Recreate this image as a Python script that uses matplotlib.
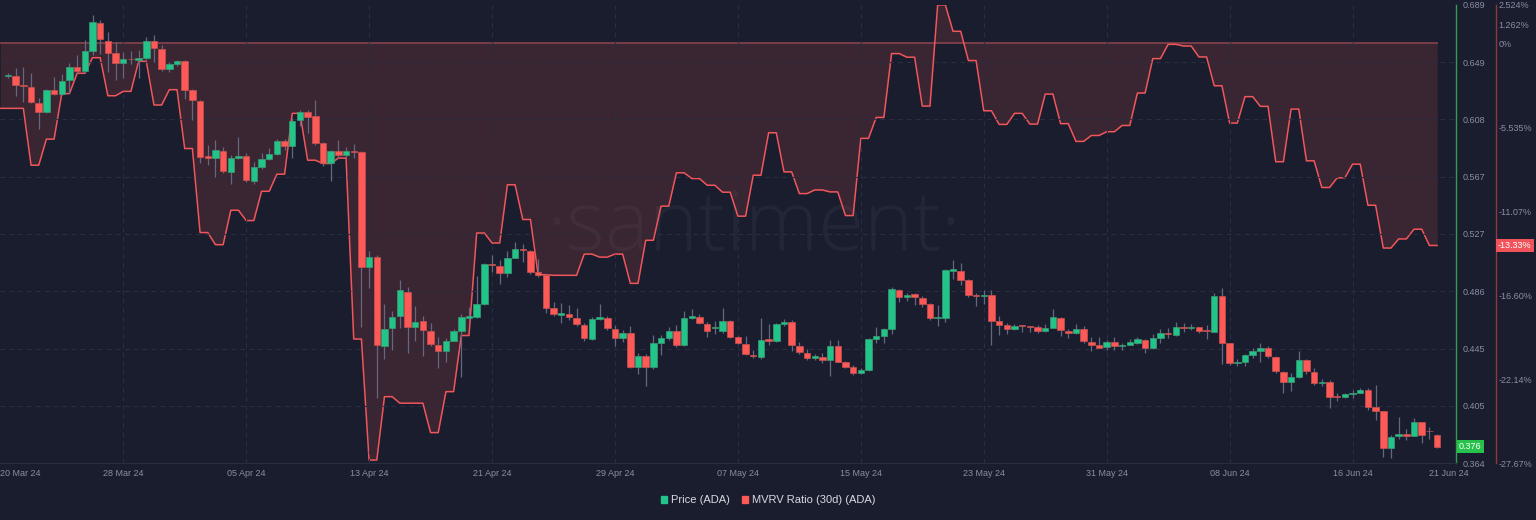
import numpy as np
import pandas as pd
import matplotlib
matplotlib.use("Agg")
import matplotlib.pyplot as plt
import matplotlib.dates as mdates
from matplotlib.patches import Patch

"""
Data: ADA 12h candles (20 Mar 24 12:00 -> 21 Jun 24 12:00) and daily MVRV 30d (%)
"""
candle_start = "2024-03-20 12:00"
mvrv_start = "2024-03-20"

opens = [
    0.6387, 0.6387, 0.6319, 0.6311, 0.6193, 0.6129, 0.6287, 0.6257, 0.6356, 0.6451,
    0.6422, 0.6562, 0.6765, 0.6637, 0.6548, 0.6477, 0.6505, 0.6502, 0.6517, 0.6635,
    0.6580, 0.6438, 0.6470, 0.6495, 0.6285, 0.6209, 0.5821, 0.5805, 0.5854, 0.5707,
    0.5807, 0.5821, 0.5644, 0.5741, 0.5800, 0.5835, 0.5925, 0.5890, 0.6074, 0.6133,
    0.6101, 0.5909, 0.5767, 0.5854, 0.5824, 0.5854, 0.5847, 0.5031, 0.5102, 0.4470,
    0.4598, 0.4683, 0.4856, 0.4603, 0.4648, 0.4577, 0.4480, 0.4435, 0.4508, 0.4575,
    0.4669, 0.4676, 0.4769, 0.5055, 0.5036, 0.4986, 0.5095, 0.5161, 0.5147, 0.4993,
    0.4972, 0.4738, 0.4690, 0.4700, 0.4671, 0.4617, 0.4522, 0.4664, 0.4671, 0.4593,
    0.4525, 0.4563, 0.4319, 0.4399, 0.4324, 0.4492, 0.4527, 0.4575, 0.4480, 0.4669,
    0.4678, 0.4626, 0.4598, 0.4577, 0.4650, 0.4532, 0.4482, 0.4409, 0.4394, 0.4518,
    0.4508, 0.4629, 0.4643, 0.4473, 0.4423, 0.4383, 0.4394, 0.4371, 0.4473, 0.4359,
    0.4324, 0.4277, 0.4300, 0.4518, 0.4543, 0.4591, 0.4870, 0.4816, 0.4837, 0.4813,
    0.4766, 0.4667, 0.4671, 0.5005, 0.5005, 0.4939, 0.4827, 0.4827, 0.4832, 0.4646,
    0.4622, 0.4589, 0.4615, 0.4610, 0.4602, 0.4577, 0.4600, 0.4671, 0.4579, 0.4563,
    0.4593, 0.4501, 0.4475, 0.4461, 0.4499, 0.4468, 0.4477, 0.4494, 0.4513, 0.4456,
    0.4525, 0.4565, 0.4548, 0.4607, 0.4596, 0.4603, 0.4582, 0.4572, 0.4825, 0.4490,
    0.4348, 0.4357, 0.4404, 0.4435, 0.4456, 0.4394, 0.4288, 0.4213, 0.4250, 0.4371,
    0.4286, 0.4206, 0.4217, 0.4111, 0.4106, 0.4128, 0.4137, 0.4156, 0.4038, 0.4009,
    0.3744, 0.3830, 0.3848, 0.3832, 0.3929, 0.3866, 0.3839,
]
closes = [
    0.6390, 0.6321, 0.6316, 0.6202, 0.6129, 0.6285, 0.6257, 0.6353, 0.6453, 0.6422,
    0.6562, 0.6772, 0.6647, 0.6548, 0.6481, 0.6505, 0.6504, 0.6517, 0.6635, 0.6588,
    0.6438, 0.6470, 0.6495, 0.6287, 0.6214, 0.5814, 0.5807, 0.5861, 0.5712, 0.5805,
    0.5821, 0.5649, 0.5741, 0.5798, 0.5835, 0.5925, 0.5890, 0.6069, 0.6131, 0.6098,
    0.5913, 0.5767, 0.5854, 0.5828, 0.5854, 0.5847, 0.5031, 0.5102, 0.4475, 0.4593,
    0.4678, 0.4866, 0.4603, 0.4639, 0.4584, 0.4485, 0.4437, 0.4508, 0.4575, 0.4674,
    0.4683, 0.4769, 0.5055, 0.5043, 0.4986, 0.5095, 0.5159, 0.5152, 0.4993, 0.4972,
    0.4742, 0.4695, 0.4703, 0.4678, 0.4624, 0.4525, 0.4660, 0.4676, 0.4600, 0.4525,
    0.4565, 0.4319, 0.4399, 0.4324, 0.4490, 0.4527, 0.4575, 0.4477, 0.4667, 0.4683,
    0.4631, 0.4575, 0.4600, 0.4650, 0.4536, 0.4490, 0.4414, 0.4399, 0.4515, 0.4508,
    0.4626, 0.4643, 0.4477, 0.4430, 0.4385, 0.4399, 0.4371, 0.4470, 0.4359, 0.4324,
    0.4277, 0.4300, 0.4518, 0.4541, 0.4591, 0.4877, 0.4816, 0.4835, 0.4818, 0.4769,
    0.4671, 0.4676, 0.5008, 0.5015, 0.4941, 0.4830, 0.4825, 0.4829, 0.4648, 0.4622,
    0.4589, 0.4612, 0.4612, 0.4603, 0.4577, 0.4600, 0.4674, 0.4584, 0.4563, 0.4593,
    0.4506, 0.4477, 0.4458, 0.4501, 0.4470, 0.4477, 0.4497, 0.4518, 0.4456, 0.4525,
    0.4565, 0.4553, 0.4607, 0.4596, 0.4603, 0.4577, 0.4575, 0.4825, 0.4490, 0.4348,
    0.4359, 0.4404, 0.4435, 0.4456, 0.4399, 0.4295, 0.4213, 0.4250, 0.4371, 0.4293,
    0.4206, 0.4217, 0.4111, 0.4108, 0.4128, 0.4137, 0.4156, 0.4040, 0.4011, 0.3744,
    0.3827, 0.3848, 0.3832, 0.3929, 0.3839, 0.3864, 0.3756,
]
highs = [
    0.6408, 0.6441, 0.6448, 0.6410, 0.6228, 0.6297, 0.6380, 0.6401, 0.6477, 0.6536,
    0.6642, 0.6820, 0.6784, 0.6699, 0.6630, 0.6557, 0.6564, 0.6571, 0.6661, 0.6678,
    0.6607, 0.6486, 0.6500, 0.6500, 0.6294, 0.6216, 0.5897, 0.5932, 0.5881, 0.5826,
    0.5954, 0.5840, 0.5778, 0.5842, 0.5873, 0.5937, 0.5940, 0.6086, 0.6145, 0.6145,
    0.6216, 0.5920, 0.5861, 0.5932, 0.5885, 0.5902, 0.5854, 0.5145, 0.5116, 0.4766,
    0.4721, 0.4939, 0.4887, 0.4754, 0.4683, 0.4631, 0.4532, 0.4527, 0.4589, 0.4698,
    0.4745, 0.4967, 0.5060, 0.5116, 0.5081, 0.5145, 0.5211, 0.5192, 0.5152, 0.5088,
    0.4979, 0.4785, 0.4773, 0.4761, 0.4738, 0.4634, 0.4678, 0.4766, 0.4683, 0.4619,
    0.4584, 0.4615, 0.4423, 0.4414, 0.4548, 0.4548, 0.4603, 0.4617, 0.4719, 0.4733,
    0.4698, 0.4641, 0.4648, 0.4740, 0.4655, 0.4541, 0.4541, 0.4442, 0.4667, 0.4626,
    0.4636, 0.4662, 0.4655, 0.4497, 0.4447, 0.4414, 0.4419, 0.4513, 0.4513, 0.4364,
    0.4336, 0.4314, 0.4527, 0.4607, 0.4598, 0.4891, 0.4877, 0.4849, 0.4846, 0.4825,
    0.4775, 0.4761, 0.5017, 0.5081, 0.5057, 0.4946, 0.4849, 0.4868, 0.4868, 0.4683,
    0.4634, 0.4626, 0.4619, 0.4612, 0.4619, 0.4626, 0.4733, 0.4676, 0.4591, 0.4624,
    0.4612, 0.4536, 0.4536, 0.4513, 0.4536, 0.4490, 0.4518, 0.4532, 0.4520, 0.4553,
    0.4589, 0.4596, 0.4643, 0.4636, 0.4624, 0.4607, 0.4619, 0.4849, 0.4880, 0.4492,
    0.4376, 0.4417, 0.4454, 0.4494, 0.4470, 0.4399, 0.4293, 0.4277, 0.4433, 0.4378,
    0.4312, 0.4236, 0.4229, 0.4139, 0.4135, 0.4158, 0.4170, 0.4170, 0.4194, 0.4009,
    0.3839, 0.3969, 0.3879, 0.3957, 0.3931, 0.3898, 0.3846,
]
lows = [
    0.6372, 0.6245, 0.6200, 0.6195, 0.6011, 0.6127, 0.6252, 0.6252, 0.6268, 0.6408,
    0.6408, 0.6536, 0.6543, 0.6413, 0.6358, 0.6372, 0.6472, 0.6375, 0.6500, 0.6488,
    0.6422, 0.6415, 0.6458, 0.6221, 0.6074, 0.5767, 0.5755, 0.5668, 0.5696, 0.5618,
    0.5798, 0.5634, 0.5620, 0.5727, 0.5791, 0.5826, 0.5861, 0.5803, 0.6034, 0.5980,
    0.5897, 0.5748, 0.5644, 0.5805, 0.5812, 0.5807, 0.4607, 0.4880, 0.4099, 0.4376,
    0.4440, 0.4596, 0.4419, 0.4506, 0.4399, 0.4470, 0.4312, 0.4359, 0.4506, 0.4253,
    0.4655, 0.4669, 0.4761, 0.4998, 0.4908, 0.4962, 0.5095, 0.5069, 0.4981, 0.4960,
    0.4703, 0.4683, 0.4636, 0.4655, 0.4612, 0.4508, 0.4513, 0.4655, 0.4584, 0.4473,
    0.4501, 0.4314, 0.4272, 0.4189, 0.4305, 0.4404, 0.4513, 0.4465, 0.4470, 0.4665,
    0.4626, 0.4532, 0.4553, 0.4563, 0.4529, 0.4485, 0.4406, 0.4383, 0.4376, 0.4477,
    0.4499, 0.4612, 0.4437, 0.4414, 0.4371, 0.4371, 0.4348, 0.4258, 0.4357, 0.4314,
    0.4265, 0.4270, 0.4293, 0.4490, 0.4490, 0.4556, 0.4783, 0.4792, 0.4761, 0.4749,
    0.4653, 0.4612, 0.4643, 0.4946, 0.4903, 0.4818, 0.4754, 0.4769, 0.4477, 0.4548,
    0.4556, 0.4584, 0.4572, 0.4572, 0.4560, 0.4570, 0.4598, 0.4541, 0.4525, 0.4556,
    0.4492, 0.4435, 0.4454, 0.4442, 0.4442, 0.4442, 0.4474, 0.4485, 0.4423, 0.4449,
    0.4490, 0.4525, 0.4541, 0.4572, 0.4584, 0.4565, 0.4518, 0.4570, 0.4343, 0.4336,
    0.4328, 0.4328, 0.4383, 0.4357, 0.4383, 0.4277, 0.4139, 0.4151, 0.4243, 0.4272,
    0.4194, 0.4187, 0.4028, 0.4082, 0.4099, 0.4099, 0.4137, 0.4016, 0.3945, 0.3680,
    0.3673, 0.3808, 0.3803, 0.3832, 0.3784, 0.3808, 0.3744,
]

# MVRV ratio (30d), one value per day, in %
mvrv_pct = [
    -4.29, -4.29, -8.04, -6.32, -3.32, -1.98, -0.95, -3.46, -3.17, -1.19,
    -4.07, -3.06, -6.94, -12.48, -13.28, -11.01, -11.69, -9.76, -8.63, -4.62,
    -7.71, -7.93, -7.57, -19.50, -27.48, -23.30, -23.73, -23.73, -25.67, -22.97,
    -19.27, -12.51, -13.17, -9.33, -11.62, -15.26, -15.30, -15.30, -13.90, -14.10,
    -13.90, -15.83, -12.99, -10.74, -8.54, -8.92, -9.36, -9.82, -11.40, -8.70,
    -5.90, -8.48, -9.91, -9.67, -9.80, -11.36, -6.27, -4.89, -0.68, -0.92,
    -4.14, 2.53, 0.79, -1.14, -4.45, -5.35, -4.62, -5.33, -3.35, -5.30,
    -6.47, -6.08, -5.83, -5.42, -3.28, -1.01, -0.07, -0.18, -0.90, -2.80,
    -5.26, -3.52, -4.16, -7.81, -4.34, -7.75, -9.51, -8.87, -7.97, -10.68,
    -13.50, -12.90, -12.26, -13.33,
]

price_ticks = ["0.364", "0.405", "0.445", "0.486", "0.527", "0.567", "0.608", "0.649", "0.689"]
mvrv_ticks = ["2.524%", "1.262%", "0%", "-5.535%", "-11.07%", "-16.60%", "-22.14%", "-27.67%"]
mvrv_tick_vals = [2.524, 1.262, 0.0, -5.535, -11.07, -16.605, -22.14, -27.675]
date_ticks = ["2024-03-20", "2024-03-28", "2024-04-05", "2024-04-13", "2024-04-21", "2024-04-29",
              "2024-05-07", "2024-05-15", "2024-05-23", "2024-05-31", "2024-06-08", "2024-06-16",
              "2024-06-21"]

"""
Colours
"""
BG = "#1a1d2d"
GREEN = "#23c48a"
GREEN_EDGE = "#3a9b72"
RED = "#fd5a57"
RED_EDGE = "#c9504f"
WICK = "#646782"
GRID = "#2b2f44"
LABEL = "#8a8ea4"

plt.rcParams["font.family"] = ["Liberation Sans", "DejaVu Sans"]

fig = plt.figure(figsize=(15.36, 5.2), dpi=100, facecolor=BG)
ax = fig.add_axes([0.0, 0.1096, 0.9479, 0.8808])
ax2 = ax.twinx()
ax.set_zorder(2)
ax2.set_zorder(1)
ax.patch.set_visible(False)
ax2.patch.set_visible(False)

o = np.array(opens)
c = np.array(closes)
h = np.array(highs)
l = np.array(lows)
x = mdates.date2num(pd.date_range(candle_start, periods=len(o), freq="12h"))

# MVRV: daily value held through the day (12h steps)
ym = np.repeat(mvrv_pct, 2)
xm = mdates.date2num(pd.date_range(mvrv_start, periods=len(ym), freq="12h"))

# MVRV fill + line on the secondary axis
ax2.fill_between(xm, ym, 0, color=RED, alpha=0.14, linewidth=0)
ax2.plot([xm[0], xm[-1]], [0, 0], color="#82404a", lw=1.3)
ax2.plot(xm, ym, color="#f0565a", lw=1.1)
ax2.set_ylim(-27.675, 2.524)
ax2.set_yticks(mvrv_tick_vals)
ax2.set_yticklabels(mvrv_ticks)
ax2.text(0.518, 0.513, "\u00b7santiment\u00b7", transform=ax2.transAxes, ha="center", va="center",
         fontsize=60, color="white", alpha=0.045, family=["Open Sans", "DejaVu Sans"],
         fontweight="light", zorder=0)

# candles
up = c >= o
colors = np.where(up, GREEN, RED)
edges = np.where(up, GREEN_EDGE, RED_EDGE)
body = np.maximum(np.abs(c - o), 0.0005)
ax.vlines(x, l, h, color=WICK, lw=0.9, zorder=2)
ax.bar(x, body, bottom=np.minimum(o, c), width=0.42, color=colors, edgecolor=edges,
       linewidth=0.5, zorder=3)

ax.set_ylim(0.364, 0.689)
ax.set_yticks(np.linspace(0.364, 0.689, 9))
ax.set_yticklabels(price_ticks)

x0 = mdates.date2num(pd.Timestamp("2024-03-20"))
ax.set_xlim(x0 - 0.02, x0 + 94.73)
ax.set_xticks(mdates.date2num(pd.to_datetime(date_ticks)))
ax.set_xticklabels(pd.to_datetime(date_ticks).strftime("%d %b %y"))

# axes styling
ax.yaxis.set_ticks_position("right")
ax.tick_params(axis="y", length=0, pad=4.5, labelsize=6.5, labelcolor=LABEL)
ax.tick_params(axis="x", length=0, pad=4, labelsize=6.5, labelcolor=LABEL)
ax2.tick_params(axis="y", length=0, pad=2, labelsize=6.5, labelcolor=LABEL)
ax.grid(True, color=GRID, linestyle=(0, (4, 4)), linewidth=0.8)
ax.get_xgridlines()[-1].set_visible(False)
ax.get_xgridlines()[0].set_visible(False)
ax.get_ygridlines()[0].set_visible(False)
ax.get_ygridlines()[-1].set_visible(False)
xl = ax.get_xticklabels()
xl[0].set_horizontalalignment("left")
xl[-1].set_horizontalalignment("left")

for s in ["left", "top"]:
    ax.spines[s].set_visible(False)
    ax2.spines[s].set_visible(False)
ax.spines["bottom"].set_color("#2a2d40")
ax2.spines["bottom"].set_visible(False)
ax.spines["right"].set_color("#2e9e4f")
ax.spines["right"].set_linewidth(1.0)
ax2.spines["right"].set_position(("outward", 28.8))
ax2.spines["right"].set_color("#8c3a40")
ax2.spines["right"].set_linewidth(1.0)

# last value tags
ax.text(1.0 + 3 / 1456, c[-1], f"{c[-1]:.3f}", transform=ax.get_yaxis_transform(), ha="left",
        va="center", fontsize=6.5, color="white", clip_on=False,
        bbox=dict(boxstyle="square,pad=0.25", fc="#27c24c", ec="none"))
ax2.text(1.0 + 42 / 1456, mvrv_pct[-1], f"{mvrv_pct[-1]:.2f}%", transform=ax2.get_yaxis_transform(),
         ha="left", va="center", fontsize=6.5, color="white", clip_on=False,
         bbox=dict(boxstyle="square,pad=0.25", fc="#f0545a", ec="none"))

handles = [Patch(color=GREEN), Patch(color=RED)]
fig.legend(handles, ["Price (ADA)", "MVRV Ratio (30d) (ADA)"], loc="center", bbox_to_anchor=(0.5, 0.038),
           ncol=2, frameon=False, handlelength=0.55, handleheight=0.55, handletextpad=0.35,
           columnspacing=1.1, fontsize=8, labelcolor="#d8dae2")

fig.savefig("out.png", dpi=100, facecolor=BG)
